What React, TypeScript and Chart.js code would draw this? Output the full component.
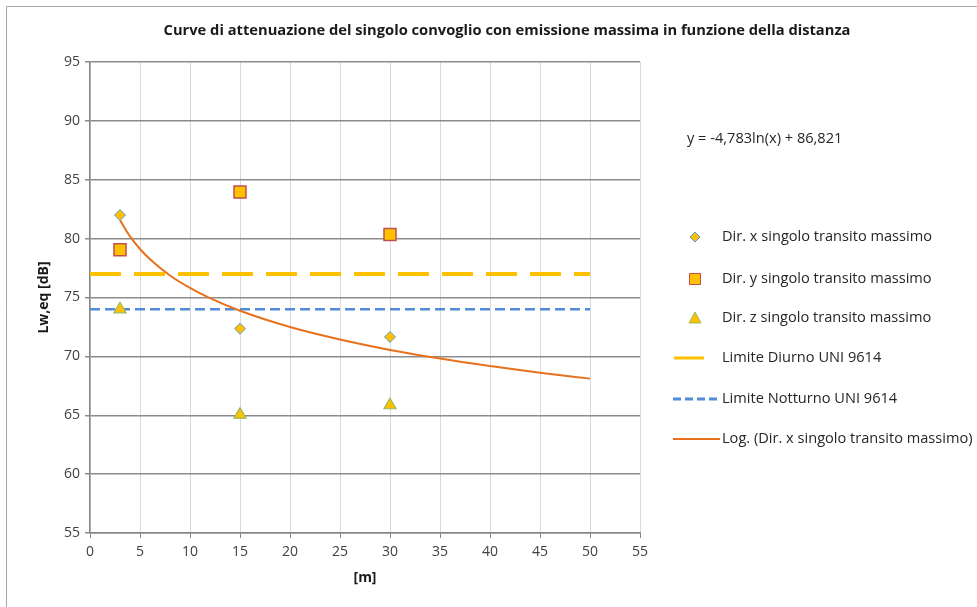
import React, { useEffect, useRef } from "react";
import { Chart, registerables } from "chart.js";
Chart.register(...registerables);

const chartTitle = "Curve di attenuazione del singolo convoglio con emissione massima in funzione della distanza";
const xAxisTitle = "[m]";
const yAxisTitle = "Lw,eq [dB]";
const equationText = "y = -4,783ln(x) + 86,821";

const distances = [3, 15, 30];
const dirX = [82.0, 72.35, 71.65];
const dirY = [79.05, 83.95, 80.35];
const dirZ = [74.0, 65.05, 65.85];
const limitX = [0, 50];
const limiteDiurno = [77, 77];
const limiteNotturno = [74, 74];
const trendX = [3, 4, 5, 6, 8, 10, 12, 15, 20, 25, 30, 35, 40, 45, 50];
const trendY = [81.57, 80.19, 79.12, 78.25, 76.87, 75.81, 74.94, 73.87, 72.49, 71.43, 70.55, 69.82, 69.18, 68.61, 68.11];

const seriesNames = [
  "Dir. x singolo transito massimo",
  "Dir. y singolo transito massimo",
  "Dir. z singolo transito massimo",
  "Limite Diurno UNI 9614",
  "Limite Notturno UNI 9614",
  "Log. (Dir. x singolo transito massimo)",
];

const FONT = "'Open Sans', sans-serif";
const YELLOW = "#FFC000";
const BLUE = "#5B9BD5";
const RED = "#C0504D";
const GREEN = "#9BBB59";
const DASH_BLUE = "#4F8BD6";
const TREND = "#E8711D";

const pts = (xs: number[], ys: number[]) => xs.map((x, i) => ({ x, y: ys[i] }));

const decorPlugin = {
  id: "decor",
  beforeDraw(chart: any) {
    const { ctx, width, height } = chart;
    ctx.save();
    ctx.fillStyle = "#ffffff";
    ctx.fillRect(0, 0, width, height);
    ctx.strokeStyle = "#a6a6a6";
    ctx.lineWidth = 1;
    ctx.beginPath();
    ctx.moveTo(6.5, height);
    ctx.lineTo(6.5, 6.5);
    ctx.lineTo(width, 6.5);
    ctx.stroke();
    ctx.restore();
  },
  afterDraw(chart: any) {
    const { ctx, chartArea } = chart;
    ctx.save();
    // Title
    ctx.fillStyle = "#1a1a1a";
    ctx.font = `bold 14.7px ${FONT}`;
    ctx.textAlign = "center";
    ctx.textBaseline = "middle";
    ctx.fillText(chartTitle, 507, 31);
    // Axis titles
    ctx.font = `bold 14px ${FONT}`;
    ctx.fillText(xAxisTitle, (chartArea.left + chartArea.right) / 2, 578);
    ctx.save();
    ctx.translate(44, (chartArea.top + chartArea.bottom) / 2);
    ctx.rotate(-Math.PI / 2);
    ctx.fillText(yAxisTitle, 0, 0);
    ctx.restore();
    // Equation
    ctx.font = `14.6px ${FONT}`;
    ctx.fillStyle = "#262626";
    ctx.textAlign = "left";
    ctx.fillText(equationText, 687, 139);
    // Legend
    const rows = [237, 279, 318, 358, 399, 439];
    const ds = chart.data.datasets;
    ds.forEach((d: any, i: number) => {
      const y = rows[i];
      const cx = 695;
      if (d.showLine) {
        ctx.save();
        ctx.strokeStyle = d.borderColor;
        ctx.lineWidth = i === 5 ? 2 : 3;
        ctx.setLineDash(i === 4 ? [8, 4] : []);
        ctx.beginPath();
        if (i === 3) {
          ctx.moveTo(674, y);
          ctx.lineTo(704, y);
        } else {
          ctx.moveTo(673, y);
          ctx.lineTo(720, y);
        }
        ctx.stroke();
        ctx.restore();
      } else {
        ctx.save();
        ctx.fillStyle = d.backgroundColor;
        ctx.strokeStyle = d.borderColor;
        ctx.lineWidth = 1;
        ctx.beginPath();
        if (d.pointStyle === "rectRot") {
          ctx.moveTo(cx, y - 5);
          ctx.lineTo(cx + 5, y);
          ctx.lineTo(cx, y + 5);
          ctx.lineTo(cx - 5, y);
          ctx.closePath();
        } else if (d.pointStyle === "rect") {
          ctx.rect(cx - 5.5, y - 5.5, 11, 11);
        } else {
          ctx.moveTo(cx, y - 6);
          ctx.lineTo(cx + 6, y + 5);
          ctx.lineTo(cx - 6, y + 5);
          ctx.closePath();
        }
        ctx.fill();
        ctx.stroke();
        ctx.restore();
      }
      ctx.fillStyle = "#262626";
      ctx.font = `14.6px ${FONT}`;
      ctx.textAlign = "left";
      ctx.fillText(d.label, 722, y);
    });
    ctx.restore();
  },
};

export default function App() {
  const ref = useRef<HTMLCanvasElement | null>(null);
  useEffect(() => {
    if (!ref.current) return;
    const chart = new Chart(ref.current, {
      type: "scatter",
      data: {
        datasets: [
          {
            label: seriesNames[0],
            data: pts(distances, dirX),
            pointStyle: "rectRot",
            pointRadius: 5.5,
            backgroundColor: YELLOW,
            borderColor: BLUE,
            borderWidth: 1,
            showLine: false,
            order: 0,
          },
          {
            label: seriesNames[1],
            data: pts(distances, dirY),
            pointStyle: "rect",
            pointRadius: 8.5,
            backgroundColor: YELLOW,
            borderColor: RED,
            borderWidth: 1.5,
            showLine: false,
            order: 0,
          },
          {
            label: seriesNames[2],
            data: pts(distances, dirZ),
            pointStyle: "triangle",
            pointRadius: 7,
            backgroundColor: YELLOW,
            borderColor: GREEN,
            borderWidth: 1.2,
            showLine: false,
            order: 0,
          },
          {
            label: seriesNames[3],
            data: pts(limitX, limiteDiurno),
            showLine: true,
            borderColor: YELLOW,
            backgroundColor: YELLOW,
            borderWidth: 4,
            borderDash: [31, 13],
            pointRadius: 0,
            order: 2,
          },
          {
            label: seriesNames[4],
            data: pts(limitX, limiteNotturno),
            showLine: true,
            borderColor: DASH_BLUE,
            backgroundColor: DASH_BLUE,
            borderWidth: 2.5,
            borderDash: [10, 5],
            pointRadius: 0,
            order: 2,
          },
          {
            label: seriesNames[5],
            data: pts(trendX, trendY),
            showLine: true,
            borderColor: TREND,
            backgroundColor: TREND,
            borderWidth: 2,
            cubicInterpolationMode: "monotone",
            pointRadius: 0,
            order: 1,
          },
        ] as any,
      },
      options: {
        responsive: false,
        animation: false,
        layout: { padding: { left: 0, top: 62, right: 337, bottom: 0 } },
        plugins: { legend: { display: false }, title: { display: false }, tooltip: { enabled: false } },
        scales: {
          x: {
            type: "linear",
            min: 0,
            max: 55,
            afterFit: (s: any) => { s.height = 74; },
            ticks: { stepSize: 5, color: "#404040", font: { family: FONT, size: 14 }, padding: 6, maxRotation: 0 },
            grid: { color: "#d9d9d9", lineWidth: 1, tickLength: 5, tickColor: "#868686" },
            border: { color: "#868686", width: 1.5 },
          },
          y: {
            type: "linear",
            min: 55,
            max: 95,
            afterFit: (s: any) => { s.width = 90; },
            ticks: { stepSize: 5, color: "#404040", font: { family: FONT, size: 14 }, padding: 5 },
            grid: { color: "#8c8c8c", lineWidth: 1.5, tickLength: 5, tickColor: "#8c8c8c" },
            border: { color: "#868686", width: 1.5 },
          },
        },
      },
      plugins: [decorPlugin],
    });
    return () => chart.destroy();
  }, []);
  return (
    <div style={{ position: "fixed", left: 0, top: 0, width: 977, height: 607, background: "#fff" }}>
      <canvas ref={ref} width={977} height={607} style={{ display: "block" }} />
    </div>
  );
}
